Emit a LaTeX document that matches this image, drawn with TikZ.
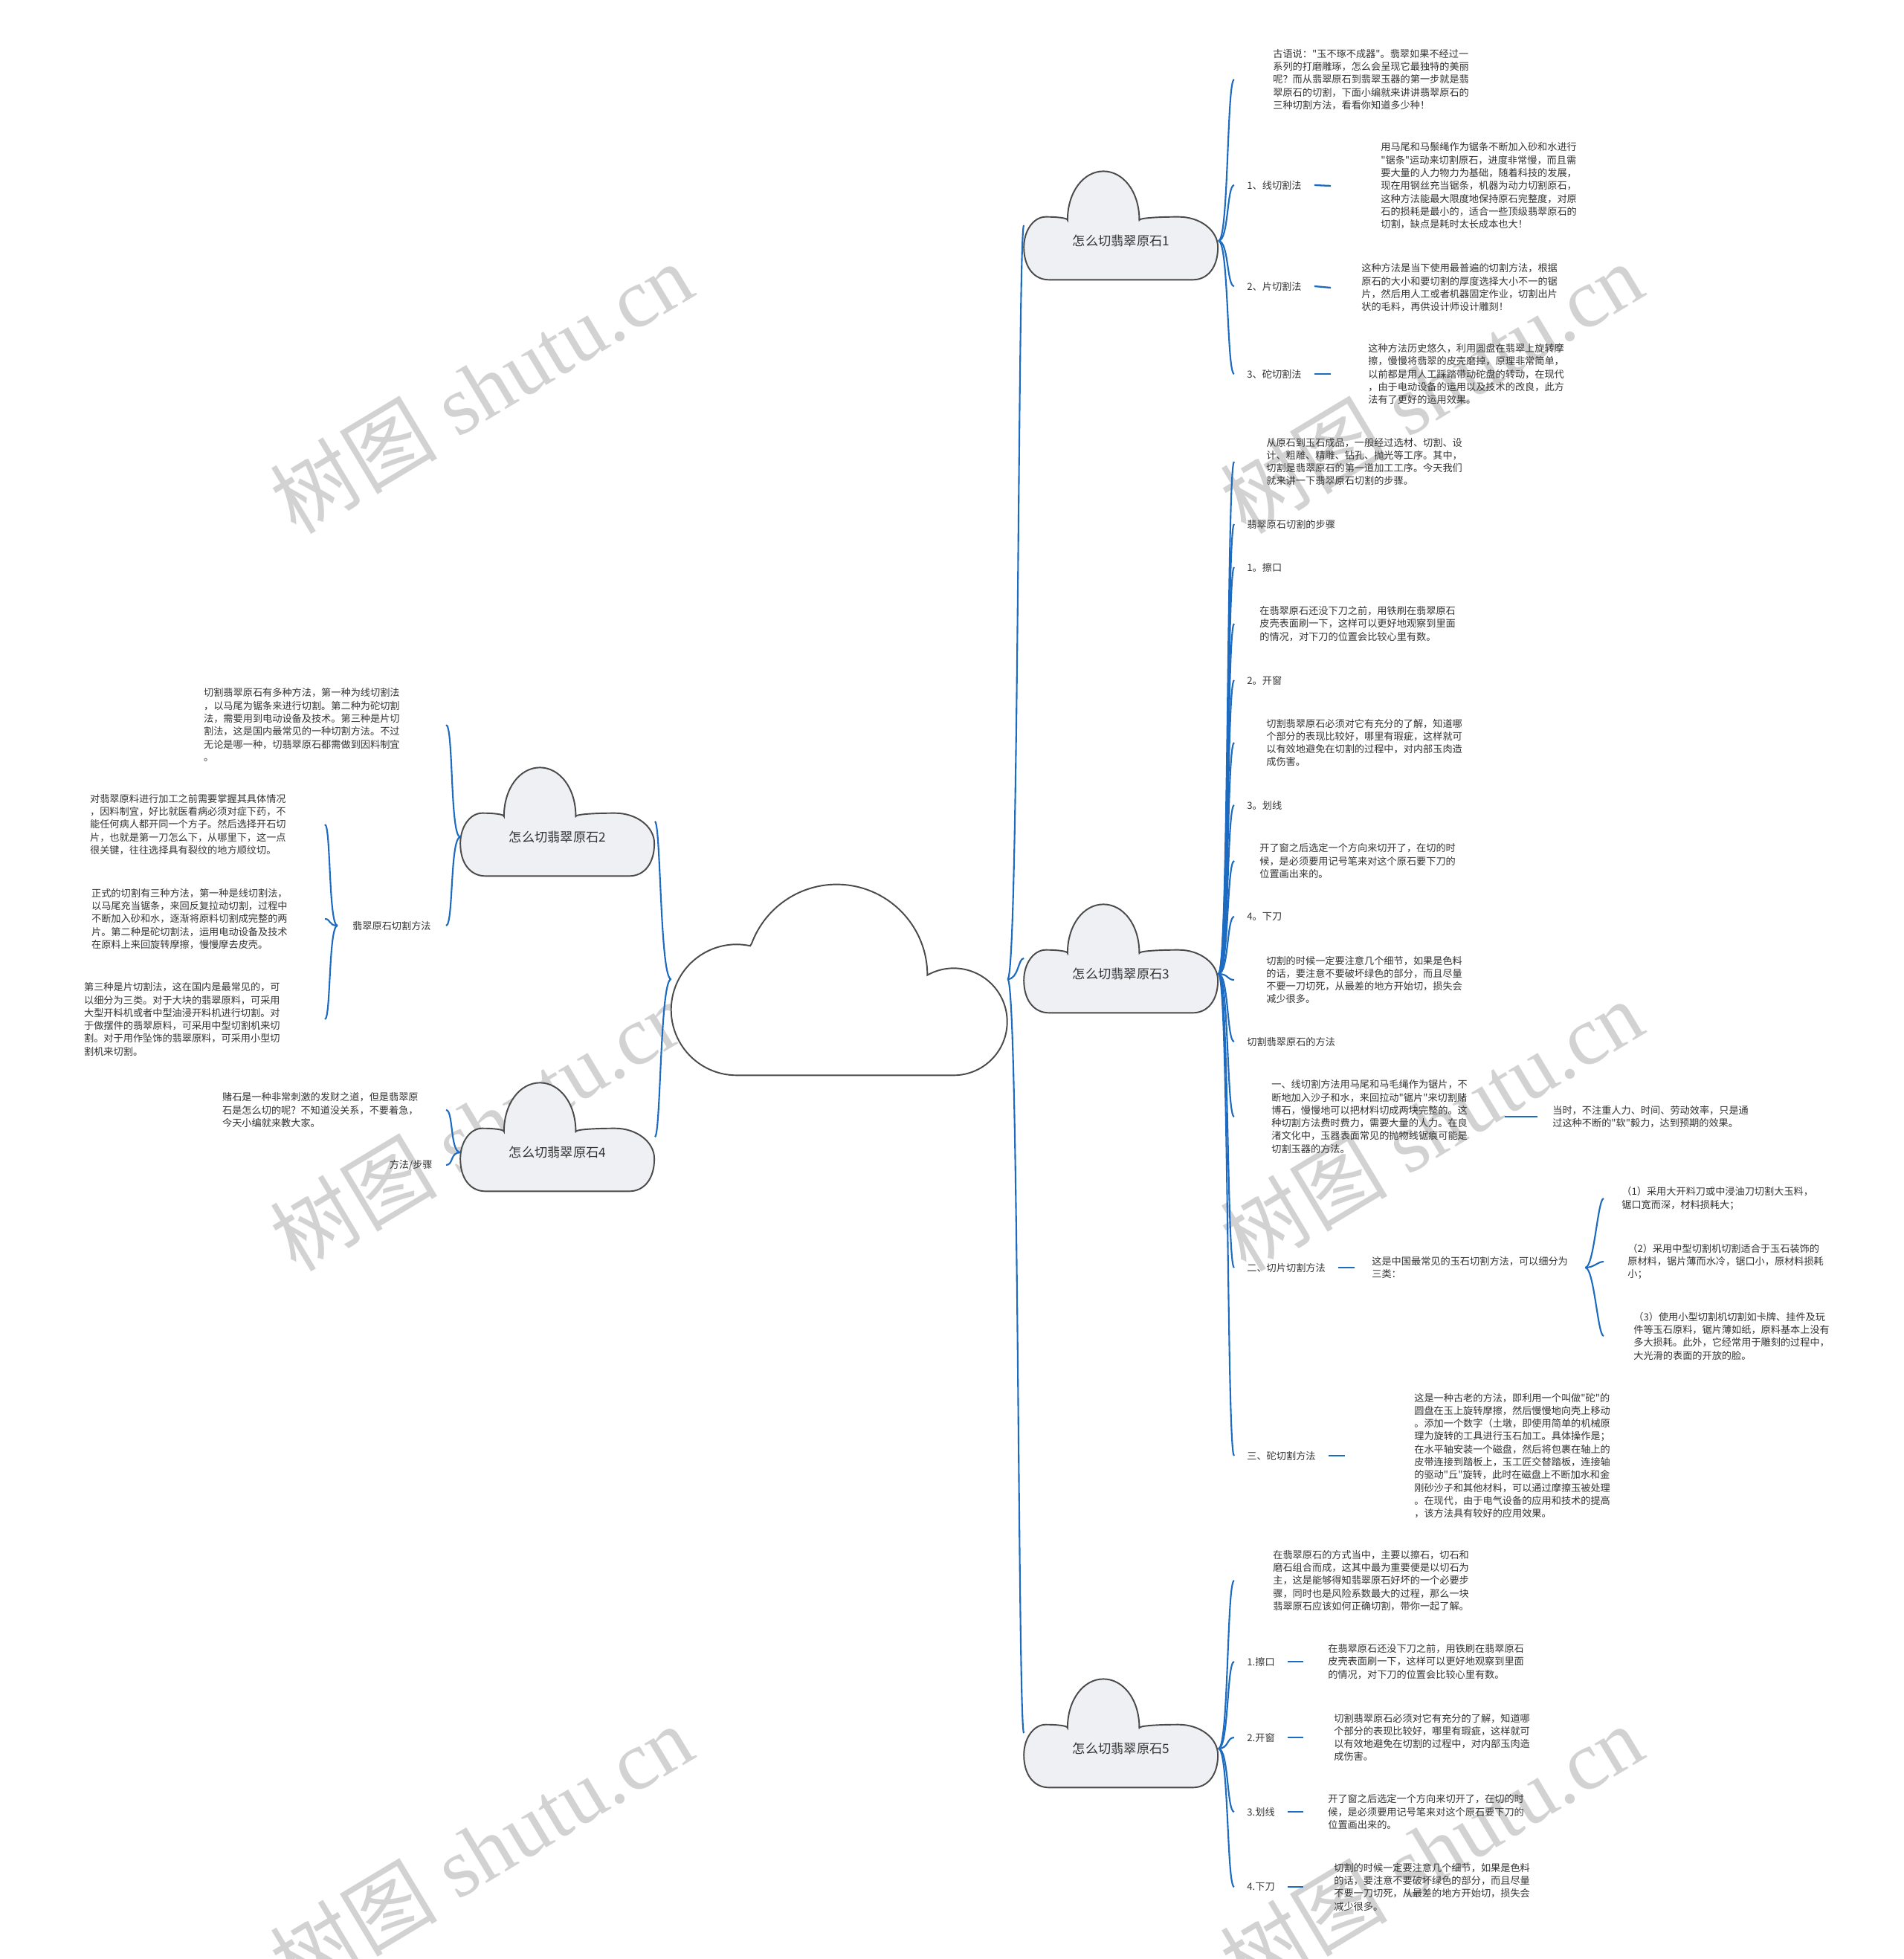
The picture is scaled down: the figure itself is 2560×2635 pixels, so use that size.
\documentclass[tikz,border=0pt]{standalone}
\usepackage{fontspec}
\newfontfamily\cjk{Noto Sans CJK SC}
\newfontfamily\wmserif{Liberation Serif}
\usepackage{tikz}
\usetikzlibrary{calc,backgrounds}
\definecolor{linkblue}{HTML}{1C6BC0}
\definecolor{cloudline}{HTML}{4A4A4A}
\definecolor{cloudfill}{HTML}{EEF0F3}
\definecolor{txtgray}{HTML}{333333}

% cloud outline round a node: node, width, height, dome centre, dome half width, lobe height, style
\newcommand{\jadecloud}[7]{%
  \pgfmathsetmacro{\jcl}{#4-#5}%
  \pgfmathsetmacro{\jcr}{#4+#5}%
  \pgfmathsetmacro{\jml}{\jcl/2}%
  \pgfmathsetmacro{\jmr}{(\jcr+1)/2}%
  \pgfmathsetmacro{\jdy}{#6+0.552*(1-#6)}%
  \pgfmathsetmacro{\jdx}{0.552*#5}%
  \pgfmathsetmacro{\jly}{0.3+0.552*(#6-0.3)}%
  \begin{scope}[shift={(#1.south west)}, x=#2, y=#3]
    \path[#7] (0.13,0) -- (0.87,0)
      .. controls (0.95,0) and (1,0.12) .. (1,0.3)
      .. controls (1,\jly) and ({\jmr+0.552*(1-\jmr)},#6) .. (\jmr,#6)
      .. controls ({\jmr-0.5*(\jmr-\jcr)},#6) and (\jcr,{#6-0.01}) .. (\jcr,{#6-0.03})
      .. controls (\jcr,\jdy) and ({#4+\jdx},1) .. (#4,1)
      .. controls ({#4-\jdx},1) and (\jcl,\jdy) .. (\jcl,{#6-0.03})
      .. controls (\jcl,{#6-0.01}) and ({\jml+0.5*(\jcl-\jml)},#6) .. (\jml,#6)
      .. controls ({0.448*\jml},#6) and (0,\jly) .. (0,0.3)
      .. controls (0,0.12) and (0.05,0) .. (0.13,0) -- cycle;
  \end{scope}}

\begin{document}
\begin{tikzpicture}[
  x=0.02cm, y=-0.02cm,
  every node/.style={font=\cjk, text=txtgray},
  cloudbox/.style={minimum width=5.22cm, minimum height=2.08cm, inner sep=0pt,
                   font=\cjk\fontsize{9.8pt}{12pt}\selectfont},
  lbl/.style={font=\cjk\fontsize{7.5pt}{9.84pt}\selectfont, inner xsep=0.34cm,
              inner ysep=2pt, anchor=west},
  para/.style={lbl, align=left},
  link/.style={draw=linkblue, line width=1.2pt},
  tie/.style={draw=linkblue, line width=1.3pt},
  cloudedge/.style={draw=cloudline, line width=1.1pt, fill=cloudfill},
  wmark/.style={text=gray!35, font=\wmserif\fontsize{64pt}{64pt}\selectfont, rotate=31},
]
\useasboundingbox (0,0) rectangle (2560,2635);

% centre and the five clouds
\node[cloudbox, minimum width=9.04cm, minimum height=5.16cm] (root) at (1129,1317) {};
\node[cloudbox] (c1) at (1508,324)  {怎么切翡翠原石1};
\node[cloudbox] (c3) at (1508,1310) {怎么切翡翠原石3};
\node[cloudbox] (c5) at (1508,2352) {怎么切翡翠原石5};
\node[cloudbox] (c2) at (750,1126)  {怎么切翡翠原石2};
\node[cloudbox] (c4) at (750,1550)  {怎么切翡翠原石4};

% branch 1
\node[para, inner xsep=1.04cm] (p10) at (1660,107) {古语说："玉不琢不成器"。翡翠如果不经过一\\系列的打磨雕琢，怎么会呈现它最独特的美丽\\呢？而从翡翠原石到翡翠玉器的第一步就是翡\\翠原石的切割，下面小编就来讲讲翡翠原石的\\三种切割方法，看看你知道多少种！};
\node[lbl] (l11) at (1660,249) {1、线切割法};
\node[para, inner xsep=1.34cm] (p11) at (1790,250) {用马尾和马鬃绳作为锯条不断加入砂和水进行\\"锯条"运动来切割原石，进度非常慢，而且需\\要大量的人力物力为基础，随着科技的发展，\\现在用钢丝充当锯条，机器为动力切割原石，\\这种方法能最大限度地保持原石完整度，对原\\石的损耗是最小的，适合一些顶级翡翠原石的\\切割，缺点是耗时太长成本也大！};
\node[lbl] (l12) at (1660,385) {2、片切割法};
\node[para, inner xsep=0.82cm] (p12) at (1790,387) {这种方法是当下使用最普遍的切割方法，根据\\原石的大小和要切割的厚度选择大小不一的锯\\片，然后用人工或者机器固定作业，切割出片\\状的毛料，再供设计师设计雕刻！};
\node[lbl] (l13) at (1660,503) {3、砣切割法};
\node[para, inner xsep=1.0cm] (p13) at (1790,503) {这种方法历史悠久，利用圆盘在翡翠上旋转摩\\擦，慢慢将翡翠的皮壳磨掉，原理非常简单，\\以前都是用人工踩踏带动砣盘的转动，在现代\\，由于电动设备的运用以及技术的改良，此方\\法有了更好的运用效果。};

% branch 3
\node[para, inner xsep=0.86cm] (p30) at (1660,621) {从原石到玉石成品，一般经过选材、切割、设\\计、粗雕、精雕、钻孔、抛光等工序。其中，\\切割是翡翠原石的第一道加工工序。今天我们\\就来讲一下翡翠原石切割的步骤。};
\node[lbl] (l31) at (1660,705) {翡翠原石切割的步骤};
\node[lbl] (l32) at (1660,763) {1。擦口};
\node[para, inner xsep=0.68cm] (p32) at (1660,839) {在翡翠原石还没下刀之前，用铁刷在翡翠原石\\皮壳表面刷一下，这样可以更好地观察到里面\\的情况，对下刀的位置会比较心里有数。};
\node[lbl] (l33) at (1660,915) {2。开窗};
\node[para, inner xsep=0.86cm] (p33) at (1660,999) {切割翡翠原石必须对它有充分的了解，知道哪\\个部分的表现比较好，哪里有瑕疵，这样就可\\以有效地避免在切割的过程中，对内部玉肉造\\成伤害。};
\node[lbl] (l34) at (1660,1083) {3。划线};
\node[para, inner xsep=0.68cm] (p34) at (1660,1158) {开了窗之后选定一个方向来切开了，在切的时\\候，是必须要用记号笔来对这个原石要下刀的\\位置画出来的。};
\node[lbl] (l35) at (1660,1233) {4。下刀};
\node[para, inner xsep=0.86cm] (p35) at (1660,1318) {切割的时候一定要注意几个细节，如果是色料\\的话，要注意不要破坏绿色的部分，而且尽量\\不要一刀切死，从最差的地方开始切，损失会\\减少很多。};
\node[lbl] (l36) at (1660,1401) {切割翡翠原石的方法};
\node[para, inner xsep=1.0cm] (p36) at (1660,1502) {一、线切割方法用马尾和马毛绳作为锯片，不\\断地加入沙子和水，来回拉动"锯片"来切割赌\\博石，慢慢地可以把材料切成两块完整的。这\\种切割方法费时费力，需要大量的人力。在良\\渚文化中，玉器表面常见的抛物线锯痕可能是\\切割玉器的方法。};
\node[para, inner xsep=0.4cm] (p37) at (2068,1502) {当时，不注重人力、时间、劳动效率，只是通\\过这种不断的"软"毅力，达到预期的效果。};
\node[lbl] (l38) at (1660,1705) {二、切片切割方法};
\node[para, inner xsep=0.46cm] (p38) at (1822,1705) {这是中国最常见的玉石切割方法，可以细分为\\三类：};
\node[para, inner xsep=0.48cm] (p381) at (2157,1612) {（1）采用大开料刀或中浸油刀切割大玉料，\\锯口宽而深，材料损耗大；};
\node[para, inner xsep=0.64cm] (p382) at (2157,1697) {（2）采用中型切割机切割适合于玉石装饰的\\原材料，锯片薄而水冷，锯口小，原材料损耗\\小；};
\node[para, inner xsep=0.8cm] (p383) at (2157,1797) {（3）使用小型切割机切割如卡牌、挂件及玩\\件等玉石原料，锯片薄如纸，原料基本上没有\\多大损耗。此外，它经常用于雕刻的过程中，\\大光滑的表面的开放的脸。};
\node[lbl] (l39) at (1660,1958) {三、砣切割方法};
\node[para, inner xsep=1.86cm] (p39) at (1809,1958) {这是一种古老的方法，即利用一个叫做"砣"的\\圆盘在玉上旋转摩擦，然后慢慢地向壳上移动\\。添加一个数字（土墩，即使用简单的机械原\\理为旋转的工具进行玉石加工。具体操作是；\\在水平轴安装一个磁盘，然后将包裹在轴上的\\皮带连接到踏板上，玉工匠交替踏板，连接轴\\的驱动"丘"旋转，此时在磁盘上不断加水和金\\刚砂沙子和其他材料，可以通过摩擦玉被处理\\。在现代，由于电气设备的应用和技术的提高\\，该方法具有较好的应用效果。};

% branch 5
\node[para, inner xsep=1.04cm] (p50) at (1660,2126) {在翡翠原石的方式当中，主要以擦石，切石和\\磨石组合而成，这其中最为重要便是以切石为\\主，这是能够得知翡翠原石好坏的一个必要步\\骤，同时也是风险系数最大的过程，那么一块\\翡翠原石应该如何正确切割，带你一起了解。};
\node[lbl] (l51) at (1660,2235) {1.擦口};
\node[para, inner xsep=0.66cm] (p51) at (1753,2235) {在翡翠原石还没下刀之前，用铁刷在翡翠原石\\皮壳表面刷一下，这样可以更好地观察到里面\\的情况，对下刀的位置会比较心里有数。};
\node[lbl] (l52) at (1660,2337) {2.开窗};
\node[para, inner xsep=0.82cm] (p52) at (1753,2337) {切割翡翠原石必须对它有充分的了解，知道哪\\个部分的表现比较好，哪里有瑕疵，这样就可\\以有效地避免在切割的过程中，对内部玉肉造\\成伤害。};
\node[lbl] (l53) at (1660,2437) {3.划线};
\node[para, inner xsep=0.66cm] (p53) at (1753,2437) {开了窗之后选定一个方向来切开了，在切的时\\候，是必须要用记号笔来对这个原石要下刀的\\位置画出来的。};
\node[lbl] (l54) at (1660,2538) {4.下刀};
\node[para, inner xsep=0.82cm] (p54) at (1753,2538) {切割的时候一定要注意几个细节，如果是色料\\的话，要注意不要破坏绿色的部分，而且尽量\\不要一刀切死，从最差的地方开始切，损失会\\减少很多。};

% branch 2
\node[para, anchor=east, inner xsep=1.24cm] (p20) at (600,975) {切割翡翠原石有多种方法，第一种为线切割法\\，以马尾为锯条来进行切割。第二种为砣切割\\法，需要用到电动设备及技术。第三种是片切\\割法，这是国内最常见的一种切割方法。不过\\无论是哪一种，切翡翠原石都需做到因料制宜\\。};
\node[lbl, anchor=east, inner xsep=0.4cm] (l21) at (600,1245) {翡翠原石切割方法};
\node[para, anchor=east, inner xsep=1.04cm] (p21) at (437,1109) {对翡翠原料进行加工之前需要掌握其具体情况\\，因料制宜，好比就医看病必须对症下药，不\\能任何病人都开同一个方子。然后选择开石切\\片，也就是第一刀怎么下，从哪里下，这一点\\很关键，往往选择具有裂纹的地方顺纹切。};
\node[para, anchor=east, inner xsep=1.0cm] (p22) at (437,1236) {正式的切割有三种方法，第一种是线切割法，\\以马尾充当锯条，来回反复拉动切割，过程中\\不断加入砂和水，逐渐将原料切割成完整的两\\片。第二种是砣切割法，运用电动设备及技术\\在原料上来回旋转摩擦，慢慢摩去皮壳。};
\node[para, anchor=east, inner xsep=1.2cm] (p23) at (437,1371) {第三种是片切割法，这在国内是最常见的，可\\以细分为三类。对于大块的翡翠原料，可采用\\大型开料机或者中型油浸开料机进行切割。对\\于做摆件的翡翠原料，可采用中型切割机来切\\割。对于用作坠饰的翡翠原料，可采用小型切\\割机来切割。};

% branch 4
\node[para, anchor=east, inner xsep=0.74cm] (p40) at (600,1493) {赌石是一种非常刺激的发财之道，但是翡翠原\\石是怎么切的呢？不知道没关系，不要着急，\\今天小编就来教大家。};
\node[lbl, anchor=east, inner xsep=0.36cm] (l41) at (600,1567) {方法/步骤};

\begin{scope}[on background layer]
\foreach \wx/\wy [count=\i] in {647/521,1925/521,647/1513,1925/1513,647/2488,1925/2488}
  \node[wmark] (w\i) at (\wx,\wy) {{\cjk 树图} shutu.cn};
% centre cloud: two round ends and a dome
\begin{scope}[shift={(root.south west)}, x=0.02cm, y=0.02cm]
  \path[cloudedge, fill=white] (106.3,174.1)
    arc[start angle=78, end angle=270, radius=88] -- (380,0)
    arc[start angle=-90, end angle=119.4, radius=72]
    arc[start angle=0, end angle=159.5, radius=122] -- cycle;
\end{scope}
\foreach \c in {c1,c2,c3,c4,c5}
  {\jadecloud{\c}{5.22cm}{2.92cm}{0.41}{0.185}{0.58}{cloudedge}}
\end{scope}

% connectors
\foreach \c in {c1,c3,c5}
  \draw[link] (root.east) .. controls +(15,0) and +(-8,0) .. ([yshift=0.42cm]\c.west);
\foreach \c in {c2,c4}
  \draw[link] (root.west) .. controls +(-15,0) and +(8,0) .. ([yshift=0.42cm]\c.east);
\foreach \n in {p10,l11,l12,l13}
  \draw[link] (c1.east) .. controls +(14,0) and +(-10,0) .. (\n.west);
\foreach \n in {p30,l31,l32,p32,l33,p33,l34,p34,l35,p35,l36,p36,l38,l39}
  \draw[link] (c3.east) .. controls +(14,0) and +(-10,0) .. (\n.west);
\foreach \n in {p50,l51,l52,l53,l54}
  \draw[link] (c5.east) .. controls +(14,0) and +(-10,0) .. (\n.west);
\foreach \n in {p20,l21}
  \draw[link] (c2.west) .. controls +(-14,0) and +(10,0) .. (\n.east);
\foreach \n in {p40,l41}
  \draw[link] (c4.west) .. controls +(-14,0) and +(10,0) .. (\n.east);
\foreach \n in {p21,p22,p23}
  \draw[link] (l21.west) .. controls +(-12,0) and +(8,0) .. (\n.east);
\foreach \n in {p381,p382,p383}
  \draw[link] (p38.east) .. controls +(12,0) and +(-8,0) .. (\n.west);
\draw[tie] (l11.east) -- (p11.west);
\draw[tie] (l12.east) -- (p12.west);
\draw[tie] (l13.east) -- (p13.west);
\draw[tie] (p36.east) -- (p37.west);
\draw[tie] (l38.east) -- (p38.west);
\draw[tie] (l39.east) -- (p39.west);
\draw[tie] (l51.east) -- (p51.west);
\draw[tie] (l52.east) -- (p52.west);
\draw[tie] (l53.east) -- (p53.west);
\draw[tie] (l54.east) -- (p54.west);
\end{tikzpicture}
\end{document}
